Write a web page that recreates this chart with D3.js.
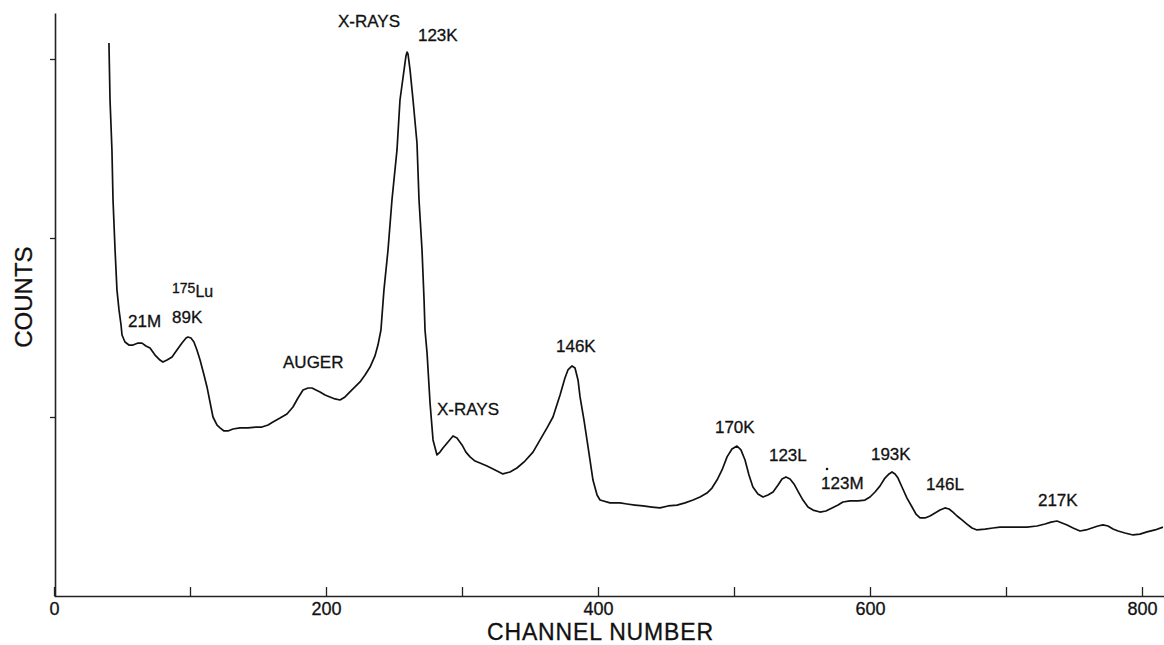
<!DOCTYPE html>
<html>
<head>
<meta charset="utf-8">
<script src="https://cdn.jsdelivr.net/npm/d3@7"></script>
<style>
  html, body { margin: 0; padding: 0; background: #fff; }
  svg { display: block; }
  text { font-family: "Liberation Sans", Arial, sans-serif; fill: #111; stroke: #111; stroke-width: 0.3px; }
</style>
</head>
<body>
<svg id="chart" width="1164" height="645"></svg>
<script>
// ---- data ----
const channels = [40.4,41.2,42.6,43.4,44.9,46.3,47.8,49.3,50.0,52.2,55.1,58.1,61.8,64.7,67.6,70.6,74.3,77.9,80.1,83.1,86.8,90.4,94.1,97.1,98.5,100.7,102.9,105.1,107.4,110.3,112.5,114.7,116.9,119.9,122.1,125.0,127.9,131.6,136.8,142.6,148.5,152.9,157.4,161.0,166.2,171.3,175.7,179.4,183.1,186.8,189.7,192.6,195.6,199.3,202.9,206.6,210.3,214.0,217.6,221.3,225.0,228.7,232.4,236.0,238.2,240.4,242.6,245.6,248.5,252.2,254.4,257.4,258.8,259.6,260.3,261.8,264.0,266.9,268.4,270.6,272.1,272.8,274.3,276.5,278.7,281.6,283.8,286.0,289.7,293.4,296.3,300.0,302.9,305.9,309.6,313.2,318.4,324.3,330.1,335.3,340.4,346.3,352.2,357.4,362.5,366.9,372.1,375.7,377.9,380.9,383.1,385.3,386.8,389.7,391.9,394.1,396.3,399.3,401.5,408.8,416.2,421.3,427.2,433.1,439.7,445.6,451.5,458.1,464.0,469.9,475.0,480.1,483.8,487.5,491.2,494.9,498.5,502.2,505.1,508.1,511.0,513.9,517.6,521.3,525.0,528.7,532.4,535.3,538.2,541.2,544.1,547.8,550.7,554.4,558.1,563.2,567.6,572.1,576.5,580.1,585.3,591.2,596.3,600.0,603.7,607.4,611.0,614.0,616.2,618.4,620.6,623.5,627.2,630.9,633.8,636.8,640.4,644.1,647.8,651.5,655.1,658.1,661.0,664.0,667.6,671.3,675.0,678.7,684.6,690.4,695.6,701.5,708.1,715.4,722.8,728.7,733.1,737.5,741.2,744.9,749.3,754.4,758.8,763.2,767.6,771.3,775.0,778.7,782.4,787.5,793.4,798.5,803.7,809.6,815.4];
const counts = [3089,2771,2492,2212,1933,1709,1598,1514,1458,1419,1402,1402,1413,1413,1397,1385,1346,1318,1307,1318,1335,1374,1413,1441,1447,1441,1419,1374,1318,1235,1168,1084,1000,955,939,922,922,933,939,939,944,944,955,972,994,1017,1056,1106,1151,1162,1162,1151,1140,1123,1112,1101,1095,1112,1140,1168,1196,1235,1279,1341,1402,1486,1709,1933,2212,2492,2771,2939,3017,3039,3028,2939,2771,2531,2212,1933,1654,1486,1358,1078,872,788,804,827,860,894,883,844,804,777,754,743,726,704,682,693,715,754,804,872,939,1000,1123,1218,1263,1285,1274,1207,1112,983,872,760,648,564,536,520,520,514,508,503,497,492,503,508,520,536,553,575,603,648,704,777,821,838,816,760,676,609,570,553,564,581,620,654,665,654,626,575,536,497,480,469,475,492,508,525,531,531,536,553,581,615,659,682,693,682,659,609,547,497,458,436,436,447,464,480,492,486,469,447,425,402,380,369,374,380,385,385,385,385,391,402,413,419,408,397,380,363,369,380,391,397,391,374,363,352,341,346,358,369,385];

const xTicks = [0,100,200,300,400,500,600,700,800];
const xTickLabels = ["0","","200","","400","","600","","800"];
const yTicks = [1000,2000,3000];

// peak annotations, anchored in data units (channel, counts)
const labelTexts = ["X-RAYS","123K","21M","89K","AUGER","X-RAYS","146K","170K","123L","123M","193K","146L","217K"];
const labelChannels = [208.8,267.6,54.4,86.8,168.4,281.6,369.1,486.0,525.7,564.0,600.7,641.2,723.5];
const labelCounts = [3179,3101,1503,1525,1274,1011,1363,911,754,598,760,592,503];

// ---- layout ----
const svg = d3.select("#chart");
const x = d3.scaleLinear().domain([0, 820]).range([54, 54 + 820 * 1.36]);
const y = d3.scaleLinear().domain([0, 3257]).range([596, 13]);

// x axis
const xAxis = d3.axisBottom(x)
  .tickValues(xTicks)
  .tickFormat((d, i) => xTickLabels[i])
  .tickSizeInner(-9)
  .tickSizeOuter(0)
  .tickPadding(6);
const gx = svg.append("g").attr("transform", "translate(0,596)").call(xAxis);
gx.select(".domain").attr("stroke", "#222").attr("stroke-width", 1.6);
gx.selectAll(".tick line").attr("stroke", "#222").attr("stroke-width", 1.3);
gx.selectAll(".tick text").attr("font-size", 18).attr("fill", "#111")
  .attr("font-family", "'Liberation Sans', Arial, sans-serif");

// y axis
const yAxis = d3.axisLeft(y)
  .tickValues(yTicks)
  .tickFormat("")
  .tickSizeInner(5)
  .tickSizeOuter(0);
const gy = svg.append("g").attr("transform", "translate(55,0)").call(yAxis);
gy.select(".domain").attr("stroke", "#222").attr("stroke-width", 1.6);
gy.selectAll(".tick line").attr("stroke", "#222").attr("stroke-width", 1.3);

// axis titles
svg.append("text")
  .attr("x", (x(0) + x(800)) / 2 + 2)
  .attr("y", 640)
  .attr("text-anchor", "middle")
  .attr("font-size", 23)
  .attr("textLength", 226)
  .text("CHANNEL  NUMBER");

svg.append("text")
  .attr("transform", "translate(32," + y(1670) + ") rotate(-90)")
  .attr("text-anchor", "middle")
  .attr("font-size", 24)
  .text("COUNTS");

// spectrum line
const pts = channels.map((c, i) => [c, counts[i]]);
const line = d3.line().x(d => x(d[0])).y(d => y(d[1]));
svg.append("path")
  .datum(pts)
  .attr("d", line)
  .attr("fill", "none")
  .attr("stroke", "#111")
  .attr("stroke-width", 1.7)
  .attr("stroke-linejoin", "round");

// labels
const lg = svg.append("g");
labelTexts.forEach((t, i) => {
  lg.append("text")
    .attr("x", x(labelChannels[i]))
    .attr("y", y(labelCounts[i]))
    .attr("font-size", 17)
    .text(t);
});
// dot above the 1 of 123M
const iM = labelTexts.indexOf("123M");
lg.append("circle")
  .attr("cx", x(labelChannels[iM]) + 6)
  .attr("cy", y(labelCounts[iM]) - 20)
  .attr("r", 1.3)
  .attr("fill", "#111");

// 175Lu isotope label
const lu = lg.append("text")
  .attr("x", x(86.8))
  .attr("y", y(1693));
lu.append("tspan").attr("font-size", 14).text("175");
lu.append("tspan").attr("font-size", 16).attr("dy", 4).text("Lu");
</script>
</body>
</html>
